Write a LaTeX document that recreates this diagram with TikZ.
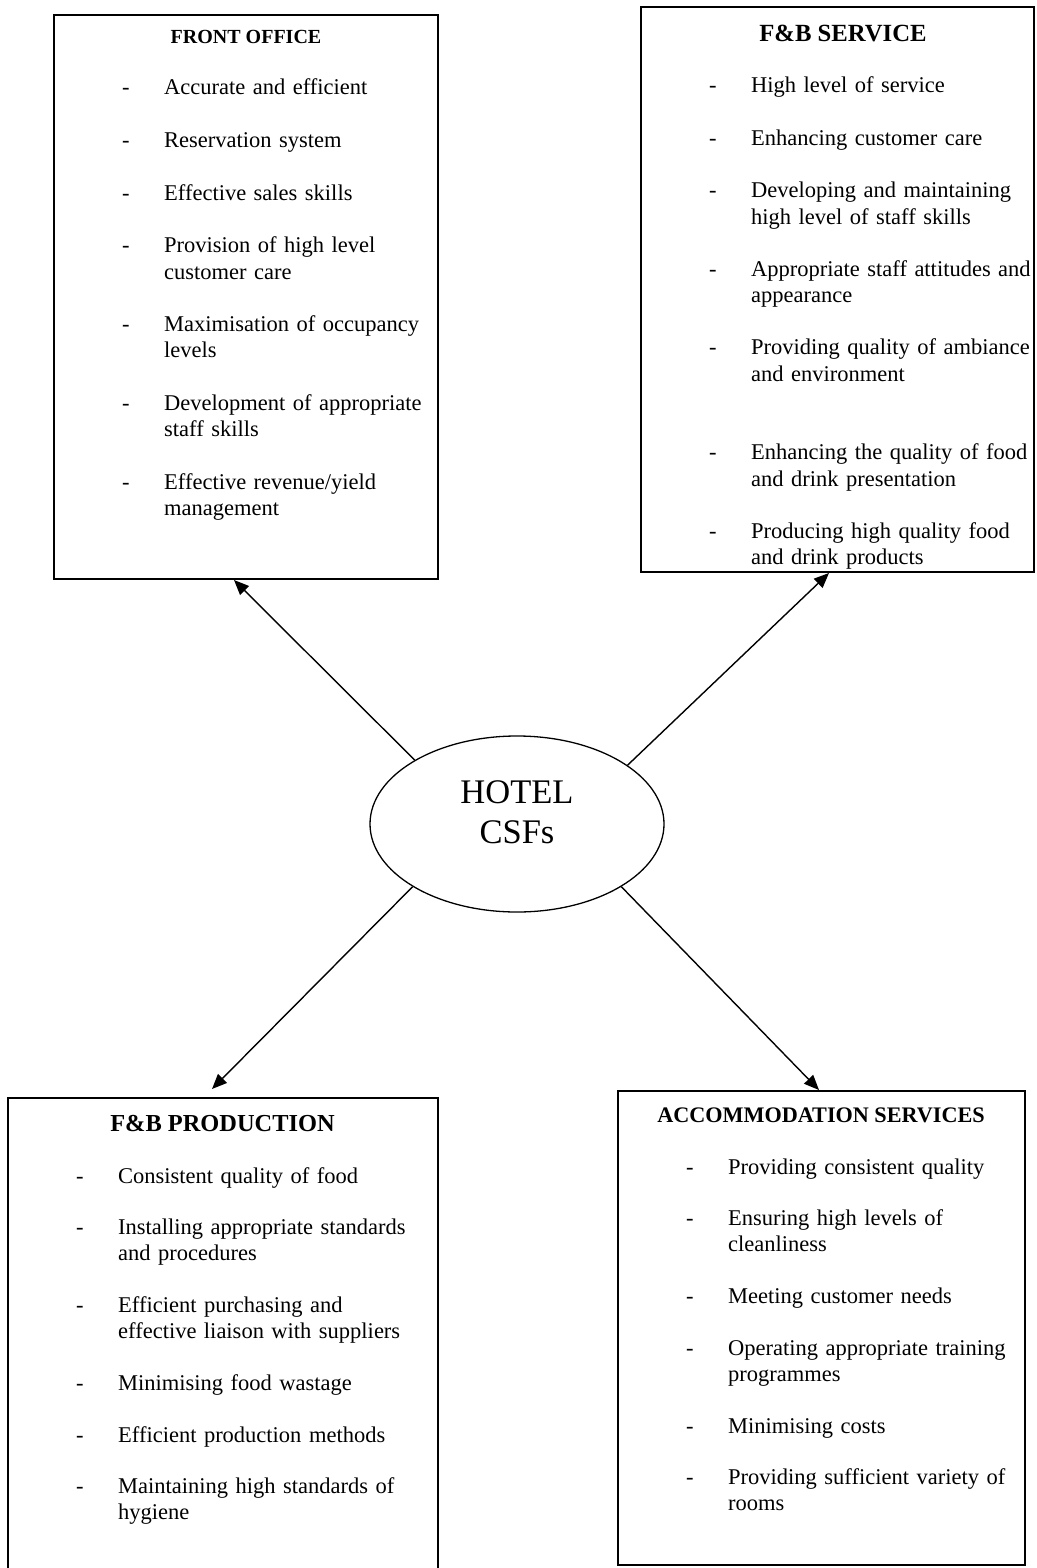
\documentclass[tikz,border=0pt]{standalone}
\usepackage{fontspec}
\setmainfont{Liberation Serif}
\usetikzlibrary{arrows.meta,shapes.geometric,calc}
\newcommand\hdash{\makebox[42pt][l]{-}}
\newcommand\hcont{\hspace*{42pt}}
\begin{document}
\begin{tikzpicture}[x=1pt,y=-1pt,
  box/.style={draw,line width=2pt,rectangle,inner sep=0pt},
  head/.style={anchor=base,inner sep=0pt,font=\bfseries\fontsize{#1}{#1}\selectfont},
  list/.style={anchor=base west,inner sep=0pt,align=left,text width=420pt,font=\fontsize{22.5}{#1}\selectfont},
  big/.style={anchor=base,inner sep=0pt,font=\fontsize{34.5}{40}\selectfont},
  conn/.style={line width=1.4pt,-{Triangle[length=15pt,width=12.5pt]}}
]
\useasboundingbox (0,0) rectangle (1036,1568);

% boxes
\node[box,minimum width=384pt,minimum height=564pt] (fo) at (246,297) {};
\node[box,minimum width=393pt,minimum height=565pt] (fbs) at (837.5,289.5) {};
\node[box,minimum width=430pt,minimum height=476pt] (fbp) at (223,1336) {};
\node[box,minimum width=407pt,minimum height=474pt] (acc) at (821.5,1328) {};

% headings
\node[head=20] (fo-h) at (246,44) {FRONT OFFICE};
\node[head=24.7] (fbs-h) at (843,42) {F\&B SERVICE};
\node[head=24.4] (fbp-h) at (222.5,1131) {F\&B PRODUCTION};
\node[head=22.2] (acc-h) at (821,1122) {ACCOMMODATION SERVICES};

% lists
\node[list=26.3] (fo-l) at (122,95) {%
\hdash Accurate and efficient\\[26.3pt]
\hdash Reservation system\\[26.3pt]
\hdash Effective sales skills\\[26.3pt]
\hdash Provision of high level\\
\hcont customer care\\[26.3pt]
\hdash Maximisation of occupancy\\
\hcont levels\\[26.3pt]
\hdash Development of appropriate\\
\hcont staff skills\\[26.3pt]
\hdash Effective revenue/yield\\
\hcont management};

\node[list=26.2] (fbs-l) at (709,93) {%
\hdash High level of service\\[26.2pt]
\hdash Enhancing customer care\\[26.2pt]
\hdash Developing and maintaining\\
\hcont high level of staff skills\\[26.2pt]
\hdash Appropriate staff attitudes and\\
\hcont appearance\\[26.2pt]
\hdash Providing quality of ambiance\\
\hcont and environment\\[52.4pt]
\hdash Enhancing the quality of food\\
\hcont and drink presentation\\[26.2pt]
\hdash Producing high quality food\\
\hcont and drink products};

\node[list=25.9] (fbp-l) at (76,1183) {%
\hdash Consistent quality of food\\[25.9pt]
\hdash Installing appropriate standards\\
\hcont and procedures\\[25.9pt]
\hdash Efficient purchasing and\\
\hcont effective liaison with suppliers\\[25.9pt]
\hdash Minimising food wastage\\[25.9pt]
\hdash Efficient production methods\\[25.9pt]
\hdash Maintaining high standards of\\
\hcont hygiene};

\node[list=25.9] (acc-l) at (686,1174) {%
\hdash Providing consistent quality\\[25.9pt]
\hdash Ensuring high levels of\\
\hcont cleanliness\\[25.9pt]
\hdash Meeting customer needs\\[25.9pt]
\hdash Operating appropriate training\\
\hcont programmes\\[25.9pt]
\hdash Minimising costs\\[25.9pt]
\hdash Providing sufficient variety of\\
\hcont rooms};

% centre
\node[draw,ellipse,line width=1.3pt,minimum width=294pt,minimum height=176pt,inner sep=0pt] (hotel) at (517,824) {};
\node[big] (hotel-a) at (517,803) {HOTEL};
\node[big] (hotel-b) at (517,843) {CSFs};

% arrow tips
\coordinate (tfo) at ($(fo.south west)+(181,0)$);
\coordinate (tfbs) at ($(fbs.south west)+(189,0)$);
\coordinate (tfbp) at ($(fbp.north west)+(205,-8)$);
\coordinate (tacc) at ($(acc.north west)+(202,0)$);

\draw[conn] (hotel.148) -- (tfo);
\draw[conn] (hotel.28) -- (tfbs);
\draw[conn] (hotel.211) -- (tfbp);
\draw[conn] (hotel.329) -- (tacc);
\end{tikzpicture}
\end{document}
